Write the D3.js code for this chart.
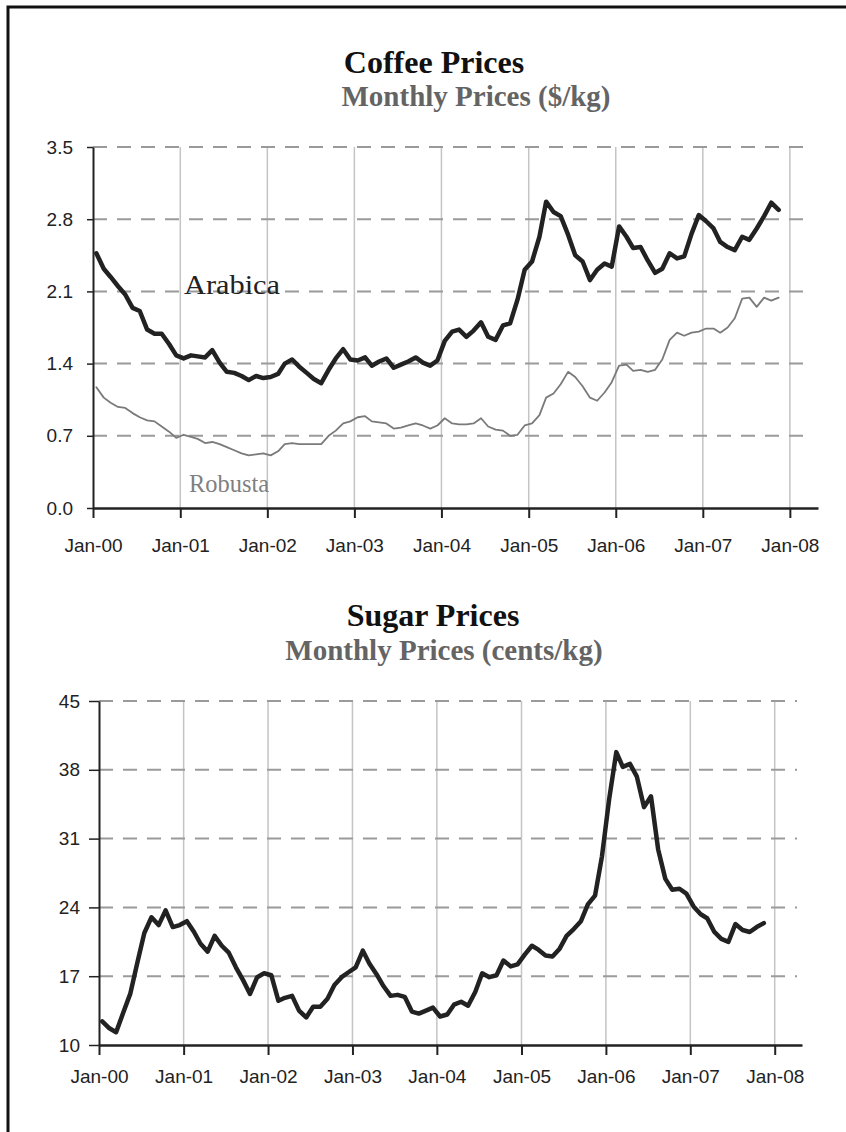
<!DOCTYPE html>
<html>
<head>
<meta charset="utf-8">
<script src="https://cdn.jsdelivr.net/npm/d3@7"></script>
<style>
  body { margin: 0; background: #fff; }
  .tick text { font-family: "Liberation Sans", Arial, sans-serif; font-size: 19px; fill: #222; }
</style>
</head>
<body>
<div id="chart"></div>
<script>
// Monthly observations, Jan-2000 .. Nov-2007
var months = d3.timeMonth.range(new Date(2000, 0, 1), new Date(2007, 11, 1));

// Coffee ($/kg)
var arabica = [
  2.47, 2.32, 2.24, 2.15, 2.07, 1.94, 1.91, 1.73, 1.69, 1.69, 1.59, 1.48,
  1.45, 1.48, 1.47, 1.46, 1.53, 1.41, 1.32, 1.31, 1.28, 1.24, 1.28, 1.26,
  1.27, 1.30, 1.40, 1.44, 1.37, 1.31, 1.25, 1.21, 1.34, 1.45, 1.54, 1.44,
  1.43, 1.46, 1.38, 1.42, 1.45, 1.36, 1.39, 1.42, 1.46, 1.41, 1.38, 1.43,
  1.62, 1.71, 1.73, 1.66, 1.72, 1.80, 1.66, 1.63, 1.77, 1.79, 2.02, 2.31,
  2.39, 2.63, 2.97, 2.87, 2.83, 2.65, 2.45, 2.39, 2.21, 2.31, 2.37, 2.34,
  2.73, 2.63, 2.52, 2.53, 2.40, 2.28, 2.32, 2.47, 2.42, 2.44, 2.66, 2.84,
  2.78, 2.71, 2.58, 2.53, 2.50, 2.63, 2.60, 2.71, 2.83, 2.96, 2.89
];
var robusta = [
  1.17, 1.07, 1.02, 0.98, 0.97, 0.92, 0.88, 0.85, 0.84, 0.79, 0.74, 0.68,
  0.71, 0.69, 0.67, 0.63, 0.64, 0.62, 0.59, 0.56, 0.53, 0.51, 0.52, 0.53,
  0.51, 0.55, 0.62, 0.63, 0.62, 0.62, 0.62, 0.62, 0.70, 0.75, 0.82, 0.84,
  0.88, 0.89, 0.84, 0.83, 0.82, 0.77, 0.78, 0.80, 0.82, 0.80, 0.77, 0.80,
  0.87, 0.82, 0.81, 0.81, 0.82, 0.87, 0.79, 0.76, 0.75, 0.70, 0.71, 0.80,
  0.82, 0.90, 1.07, 1.11, 1.20, 1.32, 1.27, 1.18, 1.07, 1.04, 1.12, 1.22,
  1.38, 1.39, 1.33, 1.34, 1.32, 1.34, 1.44, 1.63, 1.70, 1.67, 1.70, 1.71,
  1.74, 1.74, 1.70, 1.75, 1.84, 2.03, 2.04, 1.95, 2.04, 2.01, 2.04
];

// Sugar (cents/kg)
var sugar = [
  12.4, 11.7, 11.3, 13.3, 15.2, 18.4, 21.4, 23.0, 22.2, 23.7, 22.0, 22.2,
  22.6, 21.5, 20.3, 19.5, 21.1, 20.1, 19.4, 17.9, 16.6, 15.2, 16.9, 17.3,
  17.1, 14.5, 14.8, 15.0, 13.5, 12.8, 13.9, 13.9, 14.7, 16.1, 16.9, 17.4,
  17.9, 19.6, 18.3, 17.2, 16.0, 15.0, 15.1, 14.9, 13.4, 13.2, 13.5, 13.8,
  12.9, 13.1, 14.1, 14.4, 14.0, 15.4, 17.3, 16.9, 17.1, 18.6, 18.0, 18.2,
  19.2, 20.1, 19.7, 19.1, 19.0, 19.8, 21.1, 21.8, 22.6, 24.3, 25.2, 29.2,
  35.0, 39.8, 38.3, 38.6, 37.3, 34.2, 35.3, 29.9, 26.9, 25.8, 25.9, 25.4,
  24.1, 23.3, 22.9, 21.5, 20.8, 20.5, 22.3, 21.7, 21.5, 22.0, 22.4
];

// Tick values
var coffeeTicks = [0, 0.7, 1.4, 2.1, 2.8, 3.5];
var sugarTicks = [10, 17, 24, 31, 38, 45];

var svgWidth = 846;
var svgHeight = 1132;
var xStart = new Date(2000, 0, 1);
var xEnd = new Date(2008, 3, 28);

var svg = d3.select("#chart")
    .append("svg")
    .attr("width", svgWidth)
    .attr("height", svgHeight);

// page frame (cut off at right and bottom)
svg.append("path")
    .attr("d", "M8," + svgHeight + "V7H" + svgWidth)
    .attr("fill", "none")
    .attr("stroke", "#111")
    .attr("stroke-width", 3);

// draws one panel
function drawPanel(p) {
    var x = d3.scaleTime().domain([xStart, xEnd]).range([p.left, p.right]);
    var y = d3.scaleLinear().domain([p.ticks[0], p.ticks[p.ticks.length - 1]]).range([p.bottom, p.top]);
    var g = svg.append("g");

    // vertical gridlines at each January
    var years = d3.timeYear.range(new Date(2001, 0, 1), new Date(2008, 0, 2));
    g.selectAll(".vgrid")
        .data(years)
        .enter()
        .append("line")
        .attr("x1", d => x(d)).attr("x2", d => x(d))
        .attr("y1", p.top).attr("y2", p.bottom)
        .attr("stroke", "#c4c4c4")
        .attr("stroke-width", 1.5);

    // dashed horizontal gridlines
    g.selectAll(".hgrid")
        .data(p.ticks.slice(1))
        .enter()
        .append("line")
        .attr("x1", p.left).attr("x2", p.right - 5)
        .attr("y1", d => y(d)).attr("y2", d => y(d))
        .attr("stroke", "#9a9a9a")
        .attr("stroke-width", 2)
        .attr("stroke-dasharray", "14,10");

    // axes
    var xAxis = d3.axisBottom(x)
        .tickValues(d3.timeYear.range(xStart, new Date(2008, 0, 2)))
        .tickFormat(d3.timeFormat("Jan-%y"))
        .tickSize(10)
        .tickSizeOuter(0)
        .tickPadding(p.xPad);
    var gx = g.append("g")
        .attr("transform", `translate(0, ${p.bottom})`)
        .call(xAxis);
    gx.select(".domain").attr("stroke", "#222").attr("stroke-width", 2.5);
    gx.selectAll(".tick line").attr("stroke", "#222").attr("stroke-width", 2);

    var yAxis = d3.axisLeft(y)
        .tickValues(p.ticks)
        .tickFormat(p.fmt)
        .tickSize(p.yTick)
        .tickSizeOuter(0)
        .tickPadding(p.yPad);
    var gy = g.append("g")
        .attr("transform", `translate(${p.left}, 0)`)
        .call(yAxis);
    gy.select(".domain").attr("stroke", "#222").attr("stroke-width", 2);
    gy.selectAll(".tick line").attr("stroke", "#222").attr("stroke-width", 1.5);

    // series lines (points at mid-month)
    p.series.forEach(function(s) {
        var line = d3.line()
            .x((d, i) => x(d3.timeDay.offset(months[i], 14)))
            .y(d => y(d));
        g.append("path")
            .datum(s.values)
            .attr("d", line)
            .attr("fill", "none")
            .attr("stroke", s.color)
            .attr("stroke-width", s.width)
            .attr("stroke-linejoin", "round")
            .attr("stroke-linecap", "round");
    });

    // titles
    svg.append("text")
        .attr("x", p.titleX).attr("y", p.titleY)
        .attr("text-anchor", "middle")
        .style("font-family", "'Liberation Serif', 'Times New Roman', serif")
        .style("font-weight", "bold")
        .style("font-size", "32px")
        .attr("fill", "#111")
        .text(p.title);
    svg.append("text")
        .attr("x", p.subX).attr("y", p.subY)
        .attr("text-anchor", "middle")
        .style("font-family", "'Liberation Serif', 'Times New Roman', serif")
        .style("font-weight", "bold")
        .style("font-size", "29px")
        .attr("fill", "#646464")
        .text(p.subtitle);

    return { x: x, y: y };
}

// Coffee panel
var coffee = drawPanel({
    left: 93, right: 818, top: 147, bottom: 508,
    ticks: coffeeTicks, fmt: d3.format(".1f"),
    yTick: 6, yPad: 14, xPad: 21,
    title: "Coffee Prices", titleX: 434, titleY: 73,
    subtitle: "Monthly Prices ($/kg)", subX: 476, subY: 106,
    series: [
        { values: robusta, color: "#7a7a7a", width: 1.8 },
        { values: arabica, color: "#222", width: 4.5 }
    ]
});

// series labels
svg.append("text")
    .attr("x", 184).attr("y", 294)
    .attr("textLength", 96).attr("lengthAdjust", "spacingAndGlyphs")
    .style("font-family", "'Liberation Serif', 'Times New Roman', serif")
    .style("font-size", "27px")
    .attr("fill", "#222")
    .text("Arabica");
svg.append("text")
    .attr("x", 189).attr("y", 492)
    .attr("textLength", 80).attr("lengthAdjust", "spacingAndGlyphs")
    .style("font-family", "'Liberation Serif', 'Times New Roman', serif")
    .style("font-size", "26px")
    .attr("fill", "#808080")
    .text("Robusta");

// Sugar panel
var sugarPanel = drawPanel({
    left: 99, right: 802, top: 701, bottom: 1045,
    ticks: sugarTicks, fmt: d3.format("d"),
    yTick: 10, yPad: 9, xPad: 15,
    title: "Sugar Prices", titleX: 433, titleY: 626,
    subtitle: "Monthly Prices (cents/kg)", subX: 444, subY: 660,
    series: [
        { values: sugar, color: "#222", width: 4.5 }
    ]
});
</script>
</body>
</html>
